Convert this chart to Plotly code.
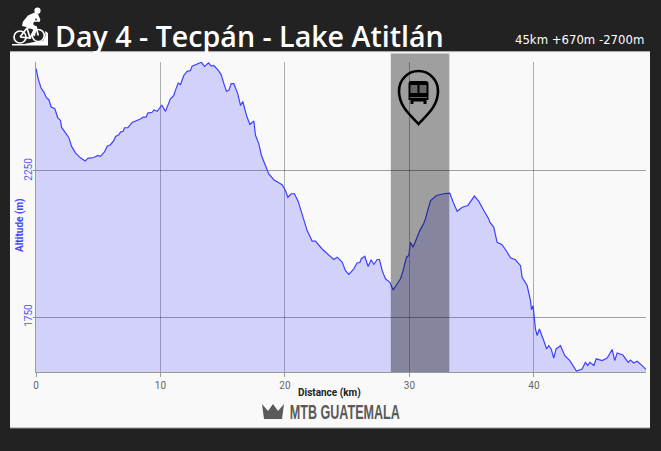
import base64
import plotly.graph_objects as go

distance_km = [0.01,0.17,0.41,0.63,0.84,1.03,1.22,1.51,1.75,1.97,2.05,2.37,2.64,2.85,3.17,3.57,3.95,4.16,4.65,4.97,5.18,5.50,5.72,5.98,6.25,6.39,6.65,6.79,7.00,7.11,7.38,7.72,8.13,8.39,8.61,8.85,8.98,9.33,9.47,9.73,10.11,10.40,10.80,11.07,11.20,11.42,11.61,11.87,12.14,12.41,12.54,12.95,13.29,13.53,13.86,14.07,14.28,14.61,14.87,15.09,15.30,15.49,15.68,15.89,16.21,16.43,16.61,16.91,17.18,17.50,17.63,17.90,18.11,18.43,18.70,19.10,19.77,20.04,20.23,20.50,20.76,21.06,21.38,21.57,21.78,22.18,22.45,22.98,23.52,
 23.65,23.92,24.19,24.59,24.86,25.13,25.53,25.80,26.01,26.12,26.41,26.68,26.92,27.14,27.40,27.59,27.81,28.07,28.42,28.69,28.93,29.28,29.49,29.76,29.95,30.08,30.29,30.56,30.83,31.15,31.28,31.69,32.17,32.76,33.24,33.51,33.83,34.24,34.69,35.22,35.57,35.97,36.37,36.45,36.77,37.04,37.44,37.85,38.11,38.51,38.92,39.05,39.45,39.72,39.80,39.93,40.12,40.26,40.44,40.79,41.01,41.19,41.38,41.59,41.78,42.13,42.48,42.88,43.41,43.87,44.13,44.32,44.49,44.81,45.00,45.48,45.88,46.28,46.49,46.68,47.14,47.57,47.75,48.02,48.29,48.69,49.01]
altitude_m = [2600,2566,2534,2520,2501,2494,2469,2463,2432,2423,2400,2381,2364,2335,2312,2295,2284,2293,2296,2303,2300,2315,2335,2340,2354,2368,2374,2383,2386,2398,2398,2416,2423,2428,2434,2434,2448,2451,2459,2454,2475,2454,2497,2509,2526,2551,2546,2577,2591,2594,2609,2615,2622,2608,2620,2609,2611,2596,2580,2549,2523,2526,2549,2549,2514,2474,2488,2440,2409,2421,2372,2343,2303,2269,2240,2220,2203,2183,2160,2172,2172,2146,2103,2075,2046,2010,2010,1983,1961,
 1957,1947,1955,1938,1909,1896,1915,1936,1936,1949,1958,1923,1946,1930,1947,1947,1909,1881,1869,1843,1858,1881,1909,1955,1961,2006,1989,2018,2046,2071,2086,2149,2166,2172,2174,2143,2112,2126,2132,2164,2146,2115,2086,2075,2058,2006,1998,1972,1953,1946,1926,1886,1858,1807,1775,1789,1709,1687,1709,1669,1641,1652,1641,1610,1641,1652,1618,1601,1565,1572,1595,1584,1595,1584,1607,1601,1610,1639,1601,1627,1620,1595,1603,1593,1599,1584,1570]

x_ticks = [0, 10, 20, 30, 40]
y_ticks = [1750, 2250]
y_tick_labels = ["1750", "2250"]
bus_section_km = [28.5, 33.2]
title_text = "Day 4 - Tecpán - Lake Atitlán"
stats_text = "45km +670m -2700m"
x_title = "Distance (km)"
y_title = "Altitude (m)"
brand_text = "MTB GUATEMALA"

W, H = 661, 451
ML, MR, MT, MB = 36, 15, 62, 79


def px(x):
    return (x - ML) / (W - ML - MR)


def py(y):
    return (H - MB - y) / (H - MT - MB)


def svg_uri(w, h, body):
    svg = f'<svg xmlns="http://www.w3.org/2000/svg" width="{w*4}" height="{h*4}" viewBox="0 0 {w} {h}">{body}</svg>'
    return "data:image/svg+xml;base64," + base64.b64encode(svg.encode()).decode()


def icon(x, y, w, h, body):
    return dict(source=svg_uri(w, h, body), xref="paper", yref="paper", x=px(x), y=py(y),
                sizex=w / (W - ML - MR), sizey=h / (H - MT - MB), xanchor="left", yanchor="top",
                sizing="stretch", layer="above")


cyclist = (
    '<g fill="none" stroke="#fff" stroke-width="1.7">'
    '<circle cx="10" cy="31" r="6"/><circle cx="28.3" cy="29.5" r="6"/>'
    '<path d="M10 31 L17 22 L26 21 L28.3 29.5 M17 22 L20 32 L10 31 M20 32 L26 21"/></g>'
    '<path fill="#fff" d="M2 39.5 L38 39.5 L38 27 L35 25 L35.5 30 L33 35 L24 36 L14 38 L2 38 Z"/>'
    '<circle cx="27.5" cy="4.7" r="3.1" fill="#fff"/>'
    '<path fill="#fff" d="M24.5 6.5 L28 8 L30.5 14 L28 15.5 L26 12 L23 18 L27 21.5 L25 30 L22.5 29.5 L23 23.5 L16.5 21 '
    'L12 20 L13 15.5 L18 9.5 Z"/>'
    '<path fill="none" stroke="#fff" stroke-width="1.6" d="M13 17 L17 16 M23 15 L30 15"/>'
)
pin = (
    '<path d="M22 55 C15 47 2.5 38 2.5 22 A19.5 20 0 0 1 41.5 22 C41.5 38 29 47 22 55 Z" '
    'fill="none" stroke="#000" stroke-width="2.6"/>'
    '<path fill="#000" d="M14.5 12 H29.5 Q32 12 32 15 V31 H30 V35 H27 V32.5 H17 V35 H14 V31 H12 V15 Q12 12 14.5 12 Z"/>'
    '<rect x="14" y="16" width="7" height="8" fill="#a0a0a0"/><rect x="23" y="16" width="7" height="8" fill="#a0a0a0"/>'
    '<rect x="13.5" y="28" width="17" height="1" fill="#a0a0a0"/>'
)
crown = '<path fill="#5a5a5a" d="M0 0 L6 7 L11 0 L16 7 L22 0 L20 15 L2 15 Z"/>'

fig = go.Figure(go.Scatter(
    x=distance_km, y=altitude_m, mode="lines",
    line=dict(color="#4040ff", width=1.2),
    fill="tozeroy", fillcolor="rgba(51,51,255,0.2)",
    hoverinfo="x+y",
))

annotations = [
    dict(text=title_text, x=px(53), y=py(35.5), xanchor="left", yanchor="middle",
         font=dict(family="Open Sans", size=28.6, color="#ffffff", weight=600)),
    dict(text=stats_text, x=px(646), y=py(40), xanchor="right", yanchor="middle",
         font=dict(family="DejaVu Sans", size=11.7, color="#ffffff")),
    dict(text=x_title, x=px(329), y=py(393), xanchor="center", yanchor="middle",
         font=dict(family="Roboto", size=10, color="#222222", weight="bold")),
    dict(text=y_title, x=px(20), y=py(225), xanchor="center", yanchor="middle", textangle=-90,
         font=dict(family="Roboto", size=10, color="#4545ff", weight="bold")),
    dict(text=brand_text, x=px(287), y=py(412), xanchor="left", yanchor="middle",
         font=dict(family="Liberation Sans", size=21, color="#5a5a5a", weight="bold")),
]
for a in annotations:
    a.update(xref="paper", yref="paper", showarrow=False)

fig.update_layout(
    width=W, height=H, autosize=False,
    margin=dict(l=ML, r=MR, t=MT, b=MB, pad=0),
    paper_bgcolor="#222222", plot_bgcolor="rgba(0,0,0,0)",
    showlegend=False,
    xaxis=dict(range=[0, 49], tickvals=x_ticks, ticks="outside", ticklen=4, tickcolor="#999999", tickwidth=1,
               showgrid=True, gridcolor="rgba(0,0,0,0.3)", gridwidth=1, zeroline=False,
               showline=True, linecolor="#999999", linewidth=1,
               tickfont=dict(family="Roboto", size=10, color="#666666")),
    yaxis=dict(range=[1562, 2623], tickvals=y_ticks, ticktext=y_tick_labels, tickangle=-90,
               ticks="outside", ticklen=2, tickcolor="#888888", tickwidth=1, ticklabelstandoff=-3,
               showgrid=True, gridcolor="rgba(0,0,0,0.36)", gridwidth=1, zeroline=False,
               showline=True, linecolor="#999999", linewidth=1,
               tickfont=dict(family="Roboto", size=10, color="#5555ff")),
    shapes=[
        dict(type="rect", xref="paper", yref="paper", x0=px(10), x1=px(650), y0=py(428), y1=py(52),
             fillcolor="#f9f9f9", line=dict(width=0), layer="below"),
        dict(type="line", xref="paper", yref="paper", x0=px(10), x1=px(650), y0=py(51.7), y1=py(51.7),
             line=dict(color="#cccccc", width=1), layer="below"),
        dict(type="line", xref="paper", yref="paper", x0=px(10), x1=px(650), y0=py(428), y1=py(428),
             line=dict(color="#999999", width=1), layer="below"),
        dict(type="rect", xref="x", yref="paper", x0=bus_section_km[0], x1=bus_section_km[1], y0=0, y1=py(53.5),
             fillcolor="rgba(0,0,0,0.36)", line=dict(width=0), layer="above"),
    ],
    images=[
        icon(10, 6, 40, 42, cyclist),
        icon(396.5, 69, 44, 58, pin),
        icon(262, 404, 22, 16, crown),
    ],
    annotations=annotations,
)

post = """
document.documentElement.style.margin='0';
document.body.style.margin='0';
document.body.style.background='#222222';
document.querySelectorAll('.annotation-text').forEach(function(t){
  if(t.textContent==='MTB GUATEMALA'){
    var b=t.getBBox();
    var x0=b.x+2;
    t.setAttribute('transform','translate('+x0+',0) scale('+(110/b.width)+',1) translate('+(-x0)+',0)');
  }
});
"""
fig.write_html("out.html", config=dict(displayModeBar=False), post_script=post)
